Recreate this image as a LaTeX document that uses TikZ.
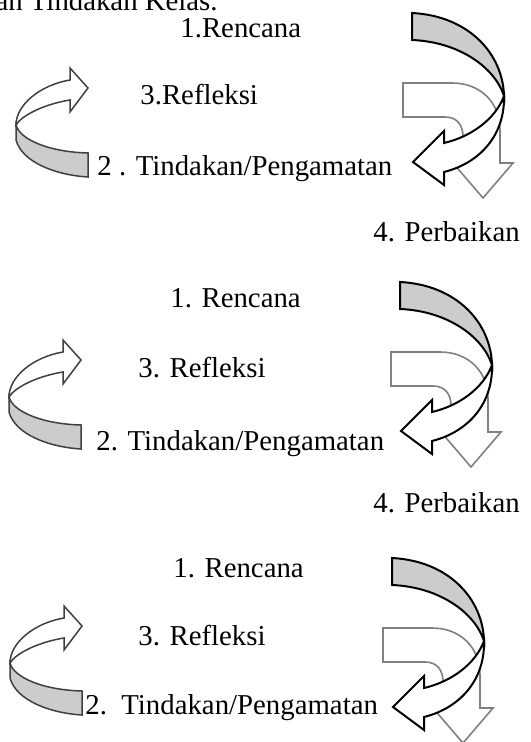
\documentclass[tikz,border=0pt]{standalone}
\usepackage{fontspec}
\setmainfont{Liberation Serif}
\usetikzlibrary{positioning}
\tikzset{
  lbl/.style={inner sep=0pt,anchor=base west},
  ribbon/.style={draw=black,line width=1pt,line join=miter},
  swirl/.style={draw=black!75,line width=.75pt},
  bent/.style={draw=gray,line width=.8pt,fill=white},
}
% right hand ribbon arrow with the bent arrow behind it
\newcommand{\rightswirl}{%
  \path[bent] (403,83) -- (452,83) .. controls (480,83) and (500,102) .. (500,130)
    -- (500,163) -- (513,163) -- (483,198) -- (453,163) -- (463,163) -- (463,137)
    .. controls (463,125) and (457,117) .. (445,117) -- (403,117) -- cycle;
  \path[ribbon,fill=gray!40] (412,13) .. controls (470,16) and (503,55) .. (504,96)
    .. controls (495,68) and (460,42) .. (412,40) -- cycle;
  \path[ribbon,fill=white] (504,96) .. controls (505,135) and (480,163) .. (444,172)
    -- (444,185) -- (413,162) -- (444,131) -- (444,143)
    .. controls (470,137) and (495,120) .. (504,96) -- cycle;}
% left hand u-turn arrow
\newcommand{\leftswirl}{%
  \path[swirl,fill=white] (70,100) -- (70,112) -- (88,88) -- (70,68) -- (70,80)
    .. controls (40,85) and (16,105) .. (16,125)
    .. controls (22,115) and (45,104) .. (70,100) -- cycle;
  \path[swirl,fill=gray!40] (16,125) -- (16,140) .. controls (22,162) and (55,175) .. (88,177)
    -- (88,153) .. controls (50,152) and (20,140) .. (16,125) -- cycle;}
\begin{document}
\begin{tikzpicture}[x=.5pt,y=-.5pt,font=\fontsize{14.4}{17}\selectfont]
  \useasboundingbox (0,0) rectangle (530,742);
  \begin{scope}
    \clip (0,0) rectangle (530,742);
    \node[inner sep=0pt,anchor=base east](H) at (218,11) {Penelitian Tindakan Kelas.};
  \end{scope}
  %%
  \begin{scope}[shift={(0,0)}]
    \rightswirl
    \leftswirl
    \node[lbl](R1) at (180,38) {1.Rencana};
    \node[lbl](F1) at (140,105) {3.Refleksi};
    \node[lbl](T1) at (97,176) {2 . Tindakan/Pengamatan};
    \node[lbl](P1) at (373,242) {4. Perbaikan};
  \end{scope}
  %%
  \begin{scope}[shift={(0,0)}]
    \begin{scope}[shift={(-12,269)}] \rightswirl \end{scope}
    \begin{scope}[shift={(-7,272)}] \leftswirl \end{scope}
    \node[lbl](R2) at (170,308) {1. Rencana};
    \node[lbl](F2) at (138,377) {3. Refleksi};
    \node[lbl](T2) at (96,450) {2. Tindakan/Pengamatan};
    \node[lbl](P2) at (373,512) {4. Perbaikan};
  \end{scope}
  %%
  \begin{scope}[shift={(0,0)}]
    \begin{scope}[shift={(-20,545)}] \rightswirl \end{scope}
    \begin{scope}[shift={(-6,538)}] \leftswirl \end{scope}
    \node[lbl](R3) at (173,577) {1. Rencana};
    \node[lbl](F3) at (138,645) {3. Refleksi};
    \node[lbl](T3) at (85,714) {2.\ \ Tindakan/Pengamatan};
  \end{scope}
\end{tikzpicture}
\end{document}
